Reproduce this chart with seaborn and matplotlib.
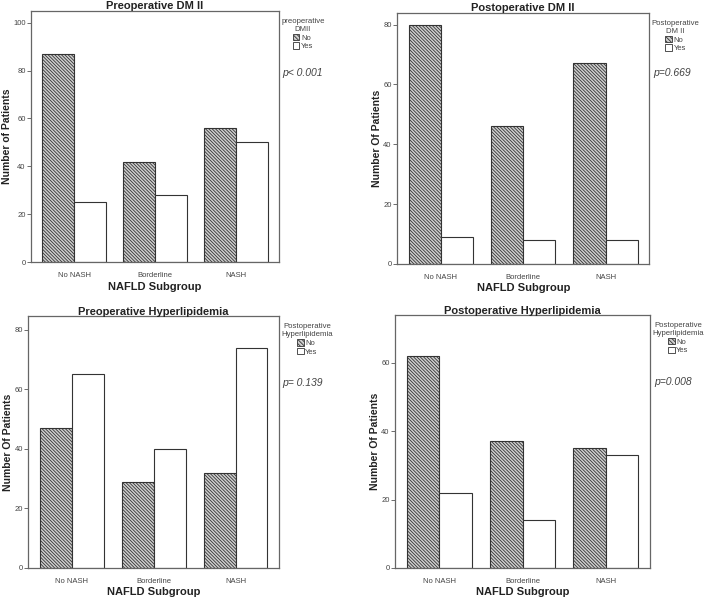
import pandas as pd
import matplotlib
matplotlib.use("Agg")
import matplotlib.pyplot as plt
import seaborn as sns
from matplotlib.patches import Patch

sns.set_theme(style="white")
plt.rcParams["font.family"] = ["Liberation Sans", "DejaVu Sans"]
plt.rcParams["hatch.color"] = "#333333"
plt.rcParams["hatch.linewidth"] = 0.6

subgroups = ["No NASH", "Borderline", "NASH"]
levels = ["No", "Yes"]

pre_dm_no = [87, 42, 56]
pre_dm_yes = [25, 28, 50]
post_dm_no = [80, 46, 67]
post_dm_yes = [9, 8, 8]
pre_hl_no = [47, 29, 32]
pre_hl_yes = [65, 40, 74]
post_hl_no = [62, 37, 35]
post_hl_yes = [22, 14, 33]

panels = [
    ("Preoperative DM II", "Number of Patients", "preoperative\nDMII", "p< 0.001",
     pre_dm_no, pre_dm_yes, 105, [0, 20, 40, 60, 80, 100]),
    ("Postoperative DM II", "Number Of Patients", "Postoperative\nDM II", "p=0.669",
     post_dm_no, post_dm_yes, 84, [0, 20, 40, 60, 80]),
    ("Preoperative Hyperlipidemia", "Number Of Patients", "Postoperative\nHyperlipidemia", "p= 0.139",
     pre_hl_no, pre_hl_yes, 84.6, [0, 20, 40, 60, 80]),
    ("Postoperative Hyperlipidemia", "Number Of Patients", "Postoperative\nHyperlipidemia", "p=0.008",
     post_hl_no, post_hl_yes, 74, [0, 20, 40, 60]),
]

# axes boxes in figure fractions (left, bottom, width, height)
boxes = [
    [0.044, 0.564, 0.350, 0.418],
    [0.561, 0.561, 0.356, 0.418],
    [0.040, 0.055, 0.354, 0.419],
    [0.558, 0.055, 0.360, 0.421],
]
p_y = [0.753, 0.76, 0.735, 0.735]

fig = plt.figure(figsize=(7.08, 6.01), dpi=100)

for box, py, (title, ylab, leg_title, ptext, no_vals, yes_vals, ymax, yticks) in zip(boxes, p_y, panels):
    ax = fig.add_axes(box)
    df = pd.DataFrame({
        "subgroup": subgroups * 2,
        "status": ["No"] * 3 + ["Yes"] * 3,
        "count": no_vals + yes_vals,
    })
    sns.barplot(data=df, x="subgroup", y="count", hue="status", order=subgroups,
                hue_order=levels, palette=["#cfcfcf", "white"], width=0.78,
                edgecolor="#333333", linewidth=0.8, saturation=1, ax=ax, legend=False)
    for bar in ax.containers[0]:
        bar.set_hatch("\\" * 10)
    ax.set_ylim(0, ymax)
    ax.set_xlim(-0.53, 2.53)
    ax.set_yticks(yticks)
    ax.tick_params(axis="y", left=True, length=3, width=0.6, color="#555555",
                   labelsize=5.5, labelcolor="#444444", pad=1)
    ax.tick_params(axis="x", bottom=False, labelsize=5.5, labelcolor="#444444", pad=1)
    for sp in ax.spines.values():
        sp.set_color("#666666")
        sp.set_linewidth(0.9)
    ax.set_title(title, fontsize=8, fontweight="bold", color="#222222", pad=1)
    ax.set_xlabel("NAFLD Subgroup", fontsize=8, fontweight="bold", color="#222222", labelpad=2)
    ax.set_ylabel(ylab, fontsize=7.5, fontweight="bold", color="#222222", labelpad=1)

    handles = [
        Patch(facecolor="#cfcfcf", edgecolor="#333333", hatch="\\" * 8, linewidth=0.6, label="No"),
        Patch(facecolor="white", edgecolor="#333333", linewidth=0.6, label="Yes"),
    ]
    leg = ax.legend(handles=handles, title=leg_title, loc="upper left",
                    bbox_to_anchor=(1.0, 0.98), frameon=False, fontsize=5.5,
                    title_fontsize=5.6, handlelength=0.9, handleheight=0.9,
                    handletextpad=0.2, labelspacing=0.1, borderaxespad=0.1,
                    borderpad=0.2)
    leg.get_title().set_multialignment("center")
    leg.get_title().set_color("#444444")
    for t in leg.get_texts():
        t.set_color("#444444")
    leg._legend_box.align = "center"
    ax.text(1.015, py, ptext, transform=ax.transAxes, fontsize=7.5,
            style="italic", color="#444444", ha="left", va="center")

fig.savefig("out.png", dpi=100)
